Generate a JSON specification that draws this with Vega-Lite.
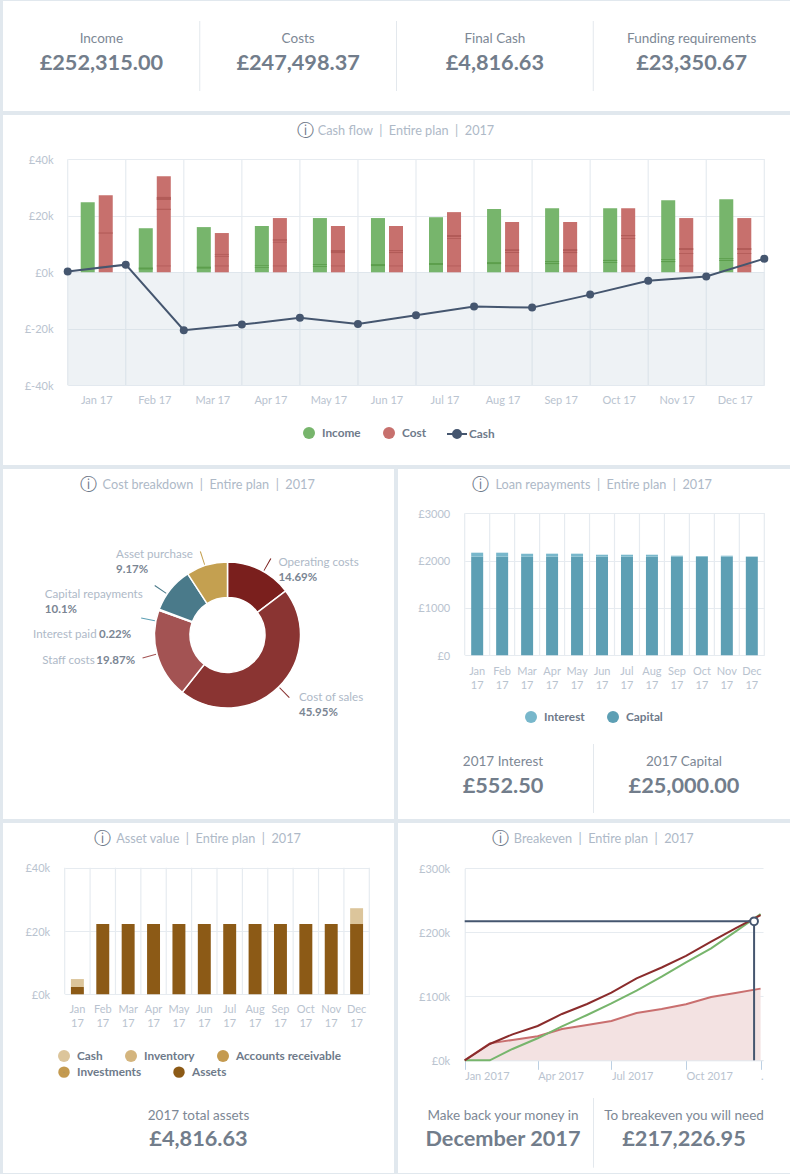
{"$schema":"https://vega.github.io/schema/vega-lite/v6.json","background":"#e1e8ee","padding":{"left":3,"top":1,"right":0,"bottom":1},"spacing":4,
"resolve":{"scale":{"fill":"independent","color":"independent","stroke":"independent","theta":"independent"},"legend":{"fill":"independent","color":"independent","stroke":"independent"}},
"config":{"font":"Lato","view":{"stroke":null,"fill":"white"},"axis":{"labelFont":"Lato","labelFontSize":11,"labelColor":"#b9c3cf","gridColor":"#e6ebf0","gridWidth":1.2,"domain":false,"ticks":false,"title":null,"labelOverlap":false},"legend":{"title":null,"labelFont":"Lato","labelFontSize":11.8,"labelFontWeight":"bold","labelColor":"#6e7a8a","symbolSize":144,"symbolType":"circle","padding":0,"symbolStrokeWidth":0,"symbolOpacity":1,"orient":"none","direction":"horizontal","columnPadding":22,"labelOffset":7}},
"datasets":{
"kpi":[{"name":"Income","value":"£252,315.00"},{"name":"Costs","value":"£247,498.37"},{"name":"Final Cash","value":"£4,816.63"},{"name":"Funding requirements","value":"£23,350.67"}],
"edges":[{"t":"Jan 17"},{"t":"Feb 17"},{"t":"Mar 17"},{"t":"Apr 17"},{"t":"May 17"},{"t":"Jun 17"},{"t":"Jul 17"},{"t":"Aug 17"},{"t":"Sep 17"},{"t":"Oct 17"},{"t":"Nov 17"},{"t":"Dec 17"},{"t":"Jan 18"}],
"bars":[{"month":"Jan 17","side":"Income","value":24800},{"month":"Jan 17","side":"Cost","value":27300},{"month":"Feb 17","side":"Income","value":15600},{"month":"Feb 17","side":"Cost","value":34000},{"month":"Mar 17","side":"Income","value":16000},{"month":"Mar 17","side":"Cost","value":13900},{"month":"Apr 17","side":"Income","value":16400},{"month":"Apr 17","side":"Cost","value":19200},{"month":"May 17","side":"Income","value":19200},{"month":"May 17","side":"Cost","value":16400},{"month":"Jun 17","side":"Income","value":19200},{"month":"Jun 17","side":"Cost","value":16400},{"month":"Jul 17","side":"Income","value":19500},{"month":"Jul 17","side":"Cost","value":21300},{"month":"Aug 17","side":"Income","value":22400},{"month":"Aug 17","side":"Cost","value":17800},{"month":"Sep 17","side":"Income","value":22700},{"month":"Sep 17","side":"Cost","value":17800},{"month":"Oct 17","side":"Income","value":22700},{"month":"Oct 17","side":"Cost","value":22700},{"month":"Nov 17","side":"Income","value":25500},{"month":"Nov 17","side":"Cost","value":19200},{"month":"Dec 17","side":"Income","value":25900},{"month":"Dec 17","side":"Cost","value":19200}],
"stripes":[{"month":"Jan 17","side":"Cost","from":13700,"to":14100},{"month":"Jan 17","side":"Cost","from":2000,"to":2300},{"month":"Feb 17","side":"Income","from":1000,"to":1700},{"month":"Feb 17","side":"Cost","from":25600,"to":26700},{"month":"Feb 17","side":"Cost","from":22100,"to":22500},{"month":"Feb 17","side":"Cost","from":2100,"to":2400},{"month":"Mar 17","side":"Income","from":1300,"to":2000},{"month":"Mar 17","side":"Cost","from":6200,"to":6500},{"month":"Mar 17","side":"Cost","from":5500,"to":5800},{"month":"Mar 17","side":"Cost","from":2100,"to":2400},{"month":"Apr 17","side":"Income","from":2200,"to":2500},{"month":"Apr 17","side":"Income","from":1500,"to":1800},{"month":"Apr 17","side":"Cost","from":11200,"to":11700},{"month":"Apr 17","side":"Cost","from":10500,"to":10800},{"month":"Apr 17","side":"Cost","from":2100,"to":2400},{"month":"May 17","side":"Income","from":2600,"to":2900},{"month":"May 17","side":"Income","from":1900,"to":2200},{"month":"May 17","side":"Cost","from":6800,"to":7900},{"month":"May 17","side":"Cost","from":2100,"to":2400},{"month":"Jun 17","side":"Income","from":2200,"to":2900},{"month":"Jun 17","side":"Cost","from":7500,"to":7900},{"month":"Jun 17","side":"Cost","from":6800,"to":7200},{"month":"Jun 17","side":"Cost","from":2100,"to":2400},{"month":"Jul 17","side":"Income","from":2600,"to":3300},{"month":"Jul 17","side":"Cost","from":12500,"to":13200},{"month":"Jul 17","side":"Cost","from":11800,"to":12100},{"month":"Jul 17","side":"Cost","from":2100,"to":2400},{"month":"Aug 17","side":"Income","from":2900,"to":3600},{"month":"Aug 17","side":"Cost","from":7500,"to":8200},{"month":"Aug 17","side":"Cost","from":6800,"to":7200},{"month":"Aug 17","side":"Cost","from":2100,"to":2400},{"month":"Sep 17","side":"Income","from":3600,"to":4000},{"month":"Sep 17","side":"Income","from":2900,"to":3300},{"month":"Sep 17","side":"Cost","from":7500,"to":8200},{"month":"Sep 17","side":"Cost","from":6800,"to":7200},{"month":"Sep 17","side":"Cost","from":2100,"to":2400},{"month":"Oct 17","side":"Income","from":4000,"to":4400},{"month":"Oct 17","side":"Income","from":3300,"to":3600},{"month":"Oct 17","side":"Cost","from":12800,"to":13200},{"month":"Oct 17","side":"Cost","from":11800,"to":12100},{"month":"Oct 17","side":"Cost","from":2100,"to":2400},{"month":"Nov 17","side":"Income","from":4400,"to":4700},{"month":"Nov 17","side":"Income","from":3600,"to":4000},{"month":"Nov 17","side":"Cost","from":7900,"to":8600},{"month":"Nov 17","side":"Cost","from":6500,"to":6800},{"month":"Nov 17","side":"Cost","from":2100,"to":2400},{"month":"Dec 17","side":"Income","from":4700,"to":5000},{"month":"Dec 17","side":"Income","from":4000,"to":4400},{"month":"Dec 17","side":"Cost","from":7900,"to":8600},{"month":"Dec 17","side":"Cost","from":6500,"to":6800},{"month":"Dec 17","side":"Cost","from":2100,"to":2400}],
"cash":[{"t":"Jan 17","series":"Cash","value":300},{"t":"Feb 17","series":"Cash","value":2700},{"t":"Mar 17","series":"Cash","value":-20500},{"t":"Apr 17","series":"Cash","value":-18500},{"t":"May 17","series":"Cash","value":-16100},{"t":"Jun 17","series":"Cash","value":-18300},{"t":"Jul 17","series":"Cash","value":-15200},{"t":"Aug 17","series":"Cash","value":-12100},{"t":"Sep 17","series":"Cash","value":-12500},{"t":"Oct 17","series":"Cash","value":-7900},{"t":"Nov 17","series":"Cash","value":-3000},{"t":"Dec 17","series":"Cash","value":-1500},{"t":"Jan 18","series":"Cash","value":4817}],
"slices":[{"name":"Operating costs","pct":"14.69%","v":14.69,"o":1},{"name":"Cost of sales","pct":"45.95%","v":45.95,"o":2},{"name":"Staff costs","pct":"19.87%","v":19.87,"o":3},{"name":"Interest paid","pct":"0.22%","v":0.22,"o":4},{"name":"Capital repayments","pct":"10.1%","v":10.1,"o":5},{"name":"Asset purchase","pct":"9.17%","v":9.17,"o":6}],
"leaders":[{"name":"Operating costs","from":8.1,"to":8.3},{"name":"Cost of sales","from":37.5,"to":37.7},{"name":"Staff costs","from":70.7,"to":70.9},{"name":"Interest paid","from":78.0,"to":78.2},{"name":"Capital repayments","from":84.4,"to":84.6},{"name":"Asset purchase","from":94.9,"to":95.1}],
"loans":[{"month":"Jan 17","kind":"Capital","o":1,"value":2083},{"month":"Jan 17","kind":"Interest","o":2,"value":85},{"month":"Feb 17","kind":"Capital","o":1,"value":2083},{"month":"Feb 17","kind":"Interest","o":2,"value":85},{"month":"Mar 17","kind":"Capital","o":1,"value":2083},{"month":"Mar 17","kind":"Interest","o":2,"value":64},{"month":"Apr 17","kind":"Capital","o":1,"value":2083},{"month":"Apr 17","kind":"Interest","o":2,"value":64},{"month":"May 17","kind":"Capital","o":1,"value":2083},{"month":"May 17","kind":"Interest","o":2,"value":64},{"month":"Jun 17","kind":"Capital","o":1,"value":2083},{"month":"Jun 17","kind":"Interest","o":2,"value":42},{"month":"Jul 17","kind":"Capital","o":1,"value":2083},{"month":"Jul 17","kind":"Interest","o":2,"value":42},{"month":"Aug 17","kind":"Capital","o":1,"value":2083},{"month":"Aug 17","kind":"Interest","o":2,"value":42},{"month":"Sep 17","kind":"Capital","o":1,"value":2083},{"month":"Sep 17","kind":"Interest","o":2,"value":21},{"month":"Oct 17","kind":"Capital","o":1,"value":2083},{"month":"Oct 17","kind":"Interest","o":2,"value":15},{"month":"Nov 17","kind":"Capital","o":1,"value":2083},{"month":"Nov 17","kind":"Interest","o":2,"value":21},{"month":"Dec 17","kind":"Capital","o":1,"value":2083},{"month":"Dec 17","kind":"Interest","o":2,"value":5}],
"assets":[{"month":"Jan 17","kind":"Assets","o":1,"value":2300},{"month":"Jan 17","kind":"Cash","o":2,"value":2517},{"month":"Feb 17","kind":"Assets","o":1,"value":22200},{"month":"Mar 17","kind":"Assets","o":1,"value":22200},{"month":"Apr 17","kind":"Assets","o":1,"value":22200},{"month":"May 17","kind":"Assets","o":1,"value":22200},{"month":"Jun 17","kind":"Assets","o":1,"value":22200},{"month":"Jul 17","kind":"Assets","o":1,"value":22200},{"month":"Aug 17","kind":"Assets","o":1,"value":22200},{"month":"Sep 17","kind":"Assets","o":1,"value":22200},{"month":"Oct 17","kind":"Assets","o":1,"value":22200},{"month":"Nov 17","kind":"Assets","o":1,"value":22200},{"month":"Dec 17","kind":"Assets","o":1,"value":22200},{"month":"Dec 17","kind":"Cash","o":2,"value":5000}],
"breakeven":[{"date":"2017-01-01T00:00:00","series":"Variable","value":0},{"date":"2017-02-01T00:00:00","series":"Variable","value":26500},{"date":"2017-03-01T00:00:00","series":"Variable","value":31800},{"date":"2017-04-01T00:00:00","series":"Variable","value":37500},{"date":"2017-05-01T00:00:00","series":"Variable","value":49000},{"date":"2017-06-01T00:00:00","series":"Variable","value":55000},{"date":"2017-07-01T00:00:00","series":"Variable","value":61500},{"date":"2017-08-01T00:00:00","series":"Variable","value":74000},{"date":"2017-09-01T00:00:00","series":"Variable","value":80000},{"date":"2017-10-01T00:00:00","series":"Variable","value":87500},{"date":"2017-11-01T00:00:00","series":"Variable","value":99000},{"date":"2017-12-01T00:00:00","series":"Variable","value":105000},{"date":"2018-01-01T00:00:00","series":"Variable","value":112000},
{"date":"2017-01-01T00:00:00","series":"Revenue","value":0},{"date":"2017-02-01T00:00:00","series":"Revenue","value":0},{"date":"2017-03-01T00:00:00","series":"Revenue","value":17700},{"date":"2017-04-01T00:00:00","series":"Revenue","value":34400},{"date":"2017-05-01T00:00:00","series":"Revenue","value":53000},{"date":"2017-06-01T00:00:00","series":"Revenue","value":70800},{"date":"2017-07-01T00:00:00","series":"Revenue","value":89000},{"date":"2017-08-01T00:00:00","series":"Revenue","value":108900},{"date":"2017-09-01T00:00:00","series":"Revenue","value":130700},{"date":"2017-10-01T00:00:00","series":"Revenue","value":153000},{"date":"2017-11-01T00:00:00","series":"Revenue","value":175000},{"date":"2017-12-01T00:00:00","series":"Revenue","value":201000},{"date":"2018-01-01T00:00:00","series":"Revenue","value":228600},
{"date":"2017-01-01T00:00:00","series":"Total","value":0},{"date":"2017-02-01T00:00:00","series":"Total","value":25500},{"date":"2017-03-01T00:00:00","series":"Total","value":40600},{"date":"2017-04-01T00:00:00","series":"Total","value":53600},{"date":"2017-05-01T00:00:00","series":"Total","value":72400},{"date":"2017-06-01T00:00:00","series":"Total","value":88000},{"date":"2017-07-01T00:00:00","series":"Total","value":105700},{"date":"2017-08-01T00:00:00","series":"Total","value":128000},{"date":"2017-09-01T00:00:00","series":"Total","value":145000},{"date":"2017-10-01T00:00:00","series":"Total","value":163000},{"date":"2017-11-01T00:00:00","series":"Total","value":185400},{"date":"2017-12-01T00:00:00","series":"Total","value":206000},{"date":"2018-01-01T00:00:00","series":"Total","value":227000}],
"point":[{"date":"2017-12-24T00:00:00","start":"2017-01-01T00:00:00","value":217226.95,"zero":0}]
},
"vconcat":[
{"width":787,"height":110,"data":{"name":"kpi"},"layer":[
{"mark":{"type":"rule","color":"#e3e8ed","strokeWidth":1},"transform":[{"filter":"datum.name!=='Income'"}],"encoding":{"x":{"field":"name","type":"nominal","bandPosition":0,"axis":null,"scale":{"domain":["Income","Costs","Final Cash","Funding requirements"],"paddingInner":0,"paddingOuter":0}},"y":{"datum":"top","type":"nominal","axis":null,"scale":{"type":"point","domain":["top","label","value","bottom"],"range":[20,90],"padding":0}},"y2":{"datum":"bottom"}}},
{"mark":{"type":"text","fontSize":13.5,"color":"#7d8895","dy":-5.6},"encoding":{"x":{"field":"name","type":"nominal","axis":null,"scale":{"domain":["Income","Costs","Final Cash","Funding requirements"],"paddingInner":0,"paddingOuter":0}},"y":{"datum":"label","type":"nominal","axis":null,"scale":{"type":"point","domain":["top","label","value","bottom"],"range":[20,90],"padding":0}},"text":{"field":"name"}}},
{"mark":{"type":"text","fontSize":21.7,"fontWeight":"bold","color":"#727d8b","dy":-5},"encoding":{"x":{"field":"name","type":"nominal","axis":null,"scale":{"domain":["Income","Costs","Final Cash","Funding requirements"],"paddingInner":0,"paddingOuter":0}},"y":{"datum":"value","type":"nominal","axis":null,"scale":{"type":"point","domain":["top","label","value","bottom"],"range":[20,90],"padding":0}},"text":{"field":"value"}}}
]},
{"spacing":0,"resolve":{"scale":{"fill":"independent","stroke":"independent"},"legend":{"fill":"independent","stroke":"independent"}},"vconcat":[
{"width":787,"height":31,"data":{"values":[{"title":"Cash flow\u00a0\u00a0|\u00a0\u00a0Entire plan\u00a0\u00a0|\u00a0\u00a02017"}]},"layer":[
{"mark":{"type":"text","text":"ⓘ","font":"DejaVu Sans","fontSize":17,"color":"#6f7a8a","dx":-91.5},"encoding":{"y":{"datum":"c","type":"nominal","axis":null}}},
{"mark":{"type":"text","fontSize":12.7,"color":"#aeb9c7","dx":9.5},"encoding":{"y":{"datum":"c","type":"nominal","axis":null},"text":{"field":"title"}}}]},
{"width":787,"height":319,"resolve":{"scale":{"x":"independent"},"axis":{"x":"independent"}},"layer":[
{"data":{"name":"edges"},"mark":{"type":"rule","color":"#e6ebf0","strokeWidth":1.2},"encoding":{"x":{"field":"t","type":"ordinal","sort":null,"axis":null,"scale":{"type":"point","padding":0,"range":[64.7,761.3]}},"y":{"datum":-40000,"type":"quantitative","scale":{"domain":[-40000,40000],"nice":false,"range":[239.3,13.3]},"axis":{"values":[-40000,-20000,0,20000,40000],"offset":-64.7,"labelPadding":14.7,"labelOffset":1,"labelExpr":"'£'+datum.value/1000+'k'","grid":true}},"y2":{"datum":40000}}},
{"data":{"name":"cash"},"mark":{"type":"area","color":"#c7d3de","opacity":0.3},"encoding":{"x":{"field":"t","type":"ordinal","sort":null,"axis":null,"scale":{"type":"point","padding":0,"range":[64.7,761.3]}},"y":{"datum":-40000,"type":"quantitative"},"y2":{"datum":0}}},
{"data":{"name":"bars"},"mark":{"type":"bar"},"encoding":{"x":{"field":"month","type":"nominal","sort":null,"scale":{"paddingInner":0,"paddingOuter":0,"range":[64.7,761.3]},"axis":{"orient":"bottom","offset":-79.7,"labelAngle":0,"labelPadding":9,"labelBaseline":"top"}},"xOffset":{"field":"side","scale":{"domain":["Income","Cost"],"paddingInner":0.222,"paddingOuter":0.722}},"y":{"field":"value","type":"quantitative"},"fill":{"field":"side","scale":{"domain":["Income","Cost"],"range":["#77b56c","#c7706d"]},"legend":{"legendX":300,"legendY":281}}}},
{"data":{"name":"stripes"},"mark":{"type":"bar"},"encoding":{"x":{"field":"month","type":"nominal","sort":null,"axis":null,"scale":{"domain":["Jan 17","Feb 17","Mar 17","Apr 17","May 17","Jun 17","Jul 17","Aug 17","Sep 17","Oct 17","Nov 17","Dec 17"],"paddingInner":0,"paddingOuter":0,"range":[64.7,761.3]}},"xOffset":{"field":"side","scale":{"domain":["Income","Cost"],"paddingInner":0.222,"paddingOuter":0.722}},"y":{"field":"from","type":"quantitative"},"y2":{"field":"to"},"fill":{"condition":{"test":"datum.side==='Income'","value":"#5c9e4c"},"value":"#b25b58"}}},
{"data":{"name":"cash"},"mark":{"type":"line","strokeWidth":2},"encoding":{"x":{"field":"t","type":"ordinal","sort":null,"axis":null,"scale":{"type":"point","padding":0,"range":[64.7,761.3]}},"y":{"field":"value","type":"quantitative"},"stroke":{"field":"series","scale":{"domain":["Cash"],"range":["#45566f"]},"legend":{"legendX":443,"legendY":277,"symbolSize":400,"symbolType":"M-1,0H1M0.4,0A0.4,0.4 0 1 1 -0.4,0A0.4,0.4 0 1 1 0.4,0Z","symbolStrokeWidth":2,"symbolFillColor":"#45566f","labelOffset":1}}}},
{"data":{"name":"cash"},"mark":{"type":"point","filled":true,"size":64,"color":"#45566f","opacity":1},"encoding":{"x":{"field":"t","type":"ordinal","sort":null,"axis":null,"scale":{"type":"point","padding":0,"range":[64.7,761.3]}},"y":{"field":"value","type":"quantitative"}}}
]}
]},
{"spacing":4,"resolve":{"scale":{"fill":"independent","color":"independent","theta":"independent"},"legend":{"fill":"independent","color":"independent"}},"hconcat":[
{"spacing":0,"vconcat":[
{"width":391,"height":31,"data":{"values":[{"title":"Cost breakdown\u00a0\u00a0|\u00a0\u00a0Entire plan\u00a0\u00a0|\u00a0\u00a02017"}]},"layer":[
{"mark":{"type":"text","text":"ⓘ","font":"DejaVu Sans","fontSize":17,"color":"#6f7a8a","dx":-110.5},"encoding":{"y":{"datum":"c","type":"nominal","axis":null}}},
{"mark":{"type":"text","fontSize":12.7,"color":"#aeb9c7","dx":10.2},"encoding":{"y":{"datum":"c","type":"nominal","axis":null},"text":{"field":"title"}}}]},
{"spacing":0,"bounds":"flush","hconcat":[
{"width":58,"height":270,"data":{"values":[{"title":""}]},"mark":{"type":"text"},"encoding":{"y":{"datum":"c","type":"nominal","axis":null},"text":{"field":"title"}}},
{"width":333,"height":270,"data":{"name":"slices"},"layer":[
{"data":{"values":[{"c":"c"}]},"mark":{"type":"rect","color":"white"},"encoding":{"x":{"field":"c","type":"nominal","axis":null,"scale":{"paddingInner":0,"paddingOuter":0}},"y":{"field":"c","type":"nominal","axis":null,"scale":{"paddingInner":0,"paddingOuter":0}}}},
{"data":{"name":"leaders"},"mark":{"type":"arc","radius":88,"radius2":74},"encoding":{"theta":{"field":"from","type":"quantitative","scale":{"domain":[0,100]}},"theta2":{"field":"to"},"color":{"field":"name","legend":null,"scale":{"domain":["Operating costs","Cost of sales","Staff costs","Interest paid","Capital repayments","Asset purchase"],"range":["#7a1f1d","#8a3432","#a35353","#5d9fb4","#4a7a8a","#c4a050"]}}}},
{"mark":{"type":"arc","radius":73,"radius2":37.5,"stroke":"white","strokeWidth":1.5},"encoding":{"theta":{"field":"v","type":"quantitative","stack":true,"scale":{"domain":[0,100]}},"order":{"field":"o","type":"quantitative"},"color":{"field":"name","legend":null}}},
{"mark":{"type":"text","radius":90,"align":"left","fontSize":11.6,"color":"#aeb9c7","dx":10.8,"dy":8.7},"encoding":{"theta":{"field":"v","type":"quantitative","stack":true},"order":{"field":"o","type":"quantitative"},"detail":{"field":"name"},"text":{"condition":{"test":"datum.name==='Operating costs'","field":"name"},"value":""}}},
{"mark":{"type":"text","radius":90,"align":"left","fontSize":11.5,"fontWeight":"bold","color":"#7a8593","dx":10.8,"dy":23.7},"encoding":{"theta":{"field":"v","type":"quantitative","stack":true},"order":{"field":"o","type":"quantitative"},"detail":{"field":"name"},"text":{"condition":{"test":"datum.name==='Operating costs'","field":"pct"},"value":""}}},
{"mark":{"type":"text","radius":90,"align":"left","fontSize":11.6,"color":"#aeb9c7","dx":8.5,"dy":-1.5},"encoding":{"theta":{"field":"v","type":"quantitative","stack":true},"order":{"field":"o","type":"quantitative"},"detail":{"field":"name"},"text":{"condition":{"test":"datum.name==='Cost of sales'","field":"name"},"value":""}}},
{"mark":{"type":"text","radius":90,"align":"left","fontSize":11.5,"fontWeight":"bold","color":"#7a8593","dx":8.5,"dy":13.5},"encoding":{"theta":{"field":"v","type":"quantitative","stack":true},"order":{"field":"o","type":"quantitative"},"detail":{"field":"name"},"text":{"condition":{"test":"datum.name==='Cost of sales'","field":"pct"},"value":""}}},
{"mark":{"type":"text","radius":90,"align":"left","fontSize":11.6,"color":"#aeb9c7","dx":-98.7,"dy":1},"encoding":{"theta":{"field":"v","type":"quantitative","stack":true},"order":{"field":"o","type":"quantitative"},"detail":{"field":"name"},"text":{"condition":{"test":"datum.name==='Staff costs'","field":"name"},"value":""}}},
{"mark":{"type":"text","radius":90,"align":"left","fontSize":11.5,"fontWeight":"bold","color":"#7a8593","dx":-44.7,"dy":1},"encoding":{"theta":{"field":"v","type":"quantitative","stack":true},"order":{"field":"o","type":"quantitative"},"detail":{"field":"name"},"text":{"condition":{"test":"datum.name==='Staff costs'","field":"pct"},"value":""}}},
{"mark":{"type":"text","radius":90,"align":"left","fontSize":11.6,"color":"#aeb9c7","dx":-110,"dy":30.8},"encoding":{"theta":{"field":"v","type":"quantitative","stack":true},"order":{"field":"o","type":"quantitative"},"detail":{"field":"name"},"text":{"condition":{"test":"datum.name==='Interest paid'","field":"name"},"value":""}}},
{"mark":{"type":"text","radius":90,"align":"left","fontSize":11.5,"fontWeight":"bold","color":"#7a8593","dx":-44,"dy":30.8},"encoding":{"theta":{"field":"v","type":"quantitative","stack":true},"order":{"field":"o","type":"quantitative"},"detail":{"field":"name"},"text":{"condition":{"test":"datum.name==='Interest paid'","field":"pct"},"value":""}}},
{"mark":{"type":"text","radius":90,"align":"left","fontSize":11.6,"color":"#aeb9c7","dx":-112.5,"dy":16.2},"encoding":{"theta":{"field":"v","type":"quantitative","stack":true},"order":{"field":"o","type":"quantitative"},"detail":{"field":"name"},"text":{"condition":{"test":"datum.name==='Capital repayments'","field":"name"},"value":""}}},
{"mark":{"type":"text","radius":90,"align":"left","fontSize":11.5,"fontWeight":"bold","color":"#7a8593","dx":-112.5,"dy":31.2},"encoding":{"theta":{"field":"v","type":"quantitative","stack":true},"order":{"field":"o","type":"quantitative"},"detail":{"field":"name"},"text":{"condition":{"test":"datum.name==='Capital repayments'","field":"pct"},"value":""}}},
{"mark":{"type":"text","radius":90,"align":"left","fontSize":11.6,"color":"#aeb9c7","dx":-85.9,"dy":6.1},"encoding":{"theta":{"field":"v","type":"quantitative","stack":true},"order":{"field":"o","type":"quantitative"},"detail":{"field":"name"},"text":{"condition":{"test":"datum.name==='Asset purchase'","field":"name"},"value":""}}},
{"mark":{"type":"text","radius":90,"align":"left","fontSize":11.5,"fontWeight":"bold","color":"#7a8593","dx":-85.9,"dy":21.1},"encoding":{"theta":{"field":"v","type":"quantitative","stack":true},"order":{"field":"o","type":"quantitative"},"detail":{"field":"name"},"text":{"condition":{"test":"datum.name==='Asset purchase'","field":"pct"},"value":""}}}
]}
]},
{"width":391,"height":49,"data":{"values":[{"title":""}]},"mark":{"type":"text"},"encoding":{"y":{"datum":"c","type":"nominal","axis":null},"text":{"field":"title"}}}
]},
{"spacing":0,"resolve":{"scale":{"fill":"independent"},"legend":{"fill":"independent"}},"vconcat":[
{"width":392,"height":31,"data":{"values":[{"title":"Loan repayments\u00a0\u00a0|\u00a0\u00a0Entire plan\u00a0\u00a0|\u00a0\u00a02017"}]},"layer":[
{"mark":{"type":"text","text":"ⓘ","font":"DejaVu Sans","fontSize":17,"color":"#6f7a8a","dx":-114},"encoding":{"y":{"datum":"c","type":"nominal","axis":null}}},
{"mark":{"type":"text","fontSize":12.7,"color":"#aeb9c7","dx":9.7},"encoding":{"y":{"datum":"c","type":"nominal","axis":null},"text":{"field":"title"}}}]},
{"width":392,"height":235,"resolve":{"scale":{"x":"independent"},"axis":{"x":"independent"}},"layer":[
{"data":{"name":"edges"},"mark":{"type":"rule","color":"#e6ebf0","strokeWidth":1.2},"encoding":{"x":{"field":"t","type":"ordinal","sort":null,"axis":null,"scale":{"type":"point","padding":0,"range":[66.7,366.3]}},"y":{"datum":0,"type":"quantitative","scale":{"domain":[0,3000],"nice":false,"range":[155.3,13.3]},"axis":{"values":[0,1000,2000,3000],"offset":-66.7,"labelPadding":15,"labelOffset":1,"labelExpr":"'£'+datum.value","grid":true}},"y2":{"datum":3000}}},
{"data":{"name":"loans"},"mark":{"type":"bar"},"encoding":{"x":{"field":"month","type":"nominal","sort":null,"scale":{"paddingInner":0.52,"paddingOuter":0.26,"range":[66.7,366.3]},"axis":{"orient":"bottom","offset":-79.7,"labelAngle":0,"labelPadding":10,"labelBaseline":"top","labelLineHeight":14,"labelExpr":"split(datum.label,' ')"}},"y":{"field":"value","type":"quantitative","stack":true},"order":{"field":"o","type":"quantitative"},"fill":{"field":"kind","scale":{"domain":["Interest","Capital"],"range":["#78b7cb","#5d9fb4"]},"legend":{"legendX":127,"legendY":211}}}}
]},
{"width":392,"height":84,"data":{"values":[{"name":"2017 Interest","value":"£552.50"},{"name":"2017 Capital","value":"£25,000.00"}]},"layer":[
{"mark":{"type":"rule","color":"#e3e8ed","strokeWidth":1},"transform":[{"filter":"datum.name!=='2017 Interest'"}],"encoding":{"x":{"field":"name","type":"nominal","bandPosition":0,"axis":null,"scale":{"domain":["2017 Interest","2017 Capital"],"paddingInner":0,"paddingOuter":0,"range":[14.5,376.5]}},"y":{"datum":"top","type":"nominal","axis":null,"scale":{"type":"point","domain":["top","label","value","bottom"],"range":[9,78],"padding":0}},"y2":{"datum":"bottom"}}},
{"mark":{"type":"text","fontSize":13.5,"color":"#7d8895","dy":-5.3},"encoding":{"x":{"field":"name","type":"nominal","axis":null,"scale":{"domain":["2017 Interest","2017 Capital"],"paddingInner":0,"paddingOuter":0,"range":[14.5,376.5]}},"y":{"datum":"label","type":"nominal","axis":null,"scale":{"type":"point","domain":["top","label","value","bottom"],"range":[9,78],"padding":0}},"text":{"field":"name"}}},
{"mark":{"type":"text","fontSize":21.7,"fontWeight":"bold","color":"#727d8b","dy":-4.5},"encoding":{"x":{"field":"name","type":"nominal","axis":null,"scale":{"domain":["2017 Interest","2017 Capital"],"paddingInner":0,"paddingOuter":0,"range":[14.5,376.5]}},"y":{"datum":"value","type":"nominal","axis":null,"scale":{"type":"point","domain":["top","label","value","bottom"],"range":[9,78],"padding":0}},"text":{"field":"value"}}}
]}
]}
]},
{"spacing":4,"resolve":{"scale":{"fill":"independent","color":"independent","stroke":"independent"},"legend":{"fill":"independent","color":"independent","stroke":"independent"}},"hconcat":[
{"spacing":0,"resolve":{"scale":{"fill":"independent","stroke":"independent"},"legend":{"fill":"independent","stroke":"independent"}},"vconcat":[
{"width":391,"height":31,"data":{"values":[{"title":"Asset value\u00a0\u00a0|\u00a0\u00a0Entire plan\u00a0\u00a0|\u00a0\u00a02017"}]},"layer":[
{"mark":{"type":"text","text":"ⓘ","font":"DejaVu Sans","fontSize":17,"color":"#6f7a8a","dx":-95.8},"encoding":{"y":{"datum":"c","type":"nominal","axis":null}}},
{"mark":{"type":"text","fontSize":12.7,"color":"#aeb9c7","dx":10},"encoding":{"y":{"datum":"c","type":"nominal","axis":null},"text":{"field":"title"}}}]},
{"width":391,"height":236,"resolve":{"scale":{"x":"independent"},"axis":{"x":"independent"}},"layer":[
{"data":{"name":"edges"},"mark":{"type":"rule","color":"#e6ebf0","strokeWidth":1.2},"encoding":{"x":{"field":"t","type":"ordinal","sort":null,"axis":null,"scale":{"type":"point","padding":0,"range":[61.7,366.3]}},"y":{"datum":0,"type":"quantitative","scale":{"domain":[0,40000],"nice":false,"range":[140.3,13.7]},"axis":{"values":[0,20000,40000],"offset":-61.7,"labelPadding":15,"labelOffset":1,"labelExpr":"'£'+datum.value/1000+'k'","grid":true}},"y2":{"datum":40000}}},
{"data":{"name":"assets"},"mark":{"type":"bar"},"encoding":{"x":{"field":"month","type":"nominal","sort":null,"scale":{"paddingInner":0.49,"paddingOuter":0.245,"range":[61.7,366.3]},"axis":{"orient":"bottom","offset":-95.7,"labelAngle":0,"labelPadding":9,"labelBaseline":"top","labelLineHeight":14,"labelExpr":"split(datum.label,' ')"}},"y":{"field":"value","type":"quantitative","stack":true},"order":{"field":"o","type":"quantitative"},"fill":{"field":"kind","scale":{"domain":["Cash","Inventory","Accounts receivable","Investments","Assets"],"range":["#dcc59b","#d4b57e","#c49a4f","#c49a4f","#8c5a16"]},"legend":{"legendX":55,"legendY":196,"values":["Cash","Inventory","Accounts receivable"]}}}},
{"data":{"name":"assets"},"mark":{"type":"bar","strokeWidth":0,"fillOpacity":0},"encoding":{"x":{"field":"month","type":"nominal","sort":null,"axis":null,"scale":{"paddingInner":0.49,"paddingOuter":0.245,"range":[61.7,366.3]}},"y":{"field":"value","type":"quantitative","stack":true},"order":{"field":"o","type":"quantitative"},"stroke":{"field":"kind","scale":{"domain":["Investments","Assets"],"range":["#c49a4f","#8c5a16"]},"legend":{"legendX":55,"legendY":212,"symbolSize":30,"symbolStrokeWidth":6,"labelOffset":7}}}}
]},
{"width":391,"height":83,"data":{"values":[{"name":"2017 total assets","value":"£4,816.63"}]},"layer":[
{"mark":{"type":"text","fontSize":13.5,"color":"#7d8895","dy":-5},"encoding":{"y":{"datum":"label","type":"nominal","axis":null,"scale":{"type":"point","domain":["top","label","value","bottom"],"range":[8,77.7],"padding":0}},"text":{"field":"name"}}},
{"mark":{"type":"text","fontSize":21.7,"fontWeight":"bold","color":"#727d8b","dy":-5},"encoding":{"y":{"datum":"value","type":"nominal","axis":null,"scale":{"type":"point","domain":["top","label","value","bottom"],"range":[8,77.7],"padding":0}},"text":{"field":"value"}}}
]}
]},
{"spacing":0,"resolve":{"scale":{"color":"independent"},"legend":{"color":"independent"}},"vconcat":[
{"width":392,"height":31,"data":{"values":[{"title":"Breakeven\u00a0\u00a0|\u00a0\u00a0Entire plan\u00a0\u00a0|\u00a0\u00a02017"}]},"layer":[
{"mark":{"type":"text","text":"ⓘ","font":"DejaVu Sans","fontSize":17,"color":"#6f7a8a","dx":-94},"encoding":{"y":{"datum":"c","type":"nominal","axis":null}}},
{"mark":{"type":"text","fontSize":12.7,"color":"#aeb9c7","dx":9.7},"encoding":{"y":{"datum":"c","type":"nominal","axis":null},"text":{"field":"title"}}}]},
{"width":392,"height":236,"layer":[
{"data":{"name":"breakeven"},"transform":[{"filter":"datum.series==='Variable'"}],"mark":{"type":"area","color":"#f3e2e2"},"encoding":{"x":{"field":"date","type":"temporal","scale":{"domain":["2017-01-01T00:00:00","2018-01-04T00:00:00"],"range":[66.7,365]},"axis":{"orient":"bottom","offset":-29.7,"domain":true,"domainColor":"#e1e7ed","ticks":true,"tickSize":9,"tickColor":"#bcd0e3","values":[{"year":2017,"month":1,"date":1},{"year":2017,"month":4,"date":1},{"year":2017,"month":7,"date":1},{"year":2017,"month":10,"date":1},{"year":2018,"month":1,"date":1}],"labelAlign":"left","labelPadding":1,"labelBaseline":"top","labelFlush":false,"labelExpr":"year(datum.value)>2017?'.':timeFormat(datum.value,'%b %Y')","grid":false}},"y":{"field":"value","type":"quantitative","scale":{"domain":[0,300000],"nice":false,"range":[206.3,14.3]},"axis":{"values":[0,100000,200000,300000],"offset":-66.7,"labelPadding":15,"labelOffset":1,"domain":true,"domainColor":"#e1e7ed","labelExpr":"'£'+datum.value/1000+'k'","grid":true}}}},
{"data":{"name":"breakeven"},"mark":{"type":"line","strokeWidth":2},"encoding":{"x":{"field":"date","type":"temporal"},"y":{"field":"value","type":"quantitative"},"color":{"field":"series","legend":null,"sort":null,"scale":{"domain":["Variable","Revenue","Total"],"range":["#c96f6f","#77b56c","#8a2c2c"]}}}},
{"data":{"name":"point"},"mark":{"type":"rule","color":"#45566f","strokeWidth":2},"encoding":{"x":{"field":"start","type":"temporal"},"x2":{"field":"date"},"y":{"field":"value","type":"quantitative"}}},
{"data":{"name":"point"},"mark":{"type":"rule","color":"#45566f","strokeWidth":2},"encoding":{"x":{"field":"date","type":"temporal"},"y":{"field":"value","type":"quantitative"},"y2":{"field":"zero"}}},
{"data":{"name":"point"},"mark":{"type":"point","filled":true,"fill":"white","stroke":"#45566f","strokeWidth":2,"size":60,"opacity":1},"encoding":{"x":{"field":"date","type":"temporal"},"y":{"field":"value","type":"quantitative"}}}
]},
{"width":392,"height":83,"data":{"values":[{"name":"Make back your money in","value":"December 2017"},{"name":"To breakeven you will need","value":"£217,226.95"}]},"layer":[
{"mark":{"type":"rule","color":"#e3e8ed","strokeWidth":1},"transform":[{"filter":"datum.name!=='Make back your money in'"}],"encoding":{"x":{"field":"name","type":"nominal","bandPosition":0,"axis":null,"scale":{"domain":["Make back your money in","To breakeven you will need"],"paddingInner":0,"paddingOuter":0,"range":[14.5,376.5]}},"y":{"datum":"top","type":"nominal","axis":null,"scale":{"type":"point","domain":["top","label","value","bottom"],"range":[8,77.7],"padding":0}},"y2":{"datum":"bottom"}}},
{"mark":{"type":"text","fontSize":13.5,"color":"#7d8895","dy":-5},"encoding":{"x":{"field":"name","type":"nominal","axis":null,"scale":{"domain":["Make back your money in","To breakeven you will need"],"paddingInner":0,"paddingOuter":0,"range":[14.5,376.5]}},"y":{"datum":"label","type":"nominal","axis":null,"scale":{"type":"point","domain":["top","label","value","bottom"],"range":[8,77.7],"padding":0}},"text":{"field":"name"}}},
{"mark":{"type":"text","fontSize":21.7,"fontWeight":"bold","color":"#727d8b","dy":-5},"encoding":{"x":{"field":"name","type":"nominal","axis":null,"scale":{"domain":["Make back your money in","To breakeven you will need"],"paddingInner":0,"paddingOuter":0,"range":[14.5,376.5]}},"y":{"datum":"value","type":"nominal","axis":null,"scale":{"type":"point","domain":["top","label","value","bottom"],"range":[8,77.7],"padding":0}},"text":{"field":"value"}}}
]}
]}
]}
]}
